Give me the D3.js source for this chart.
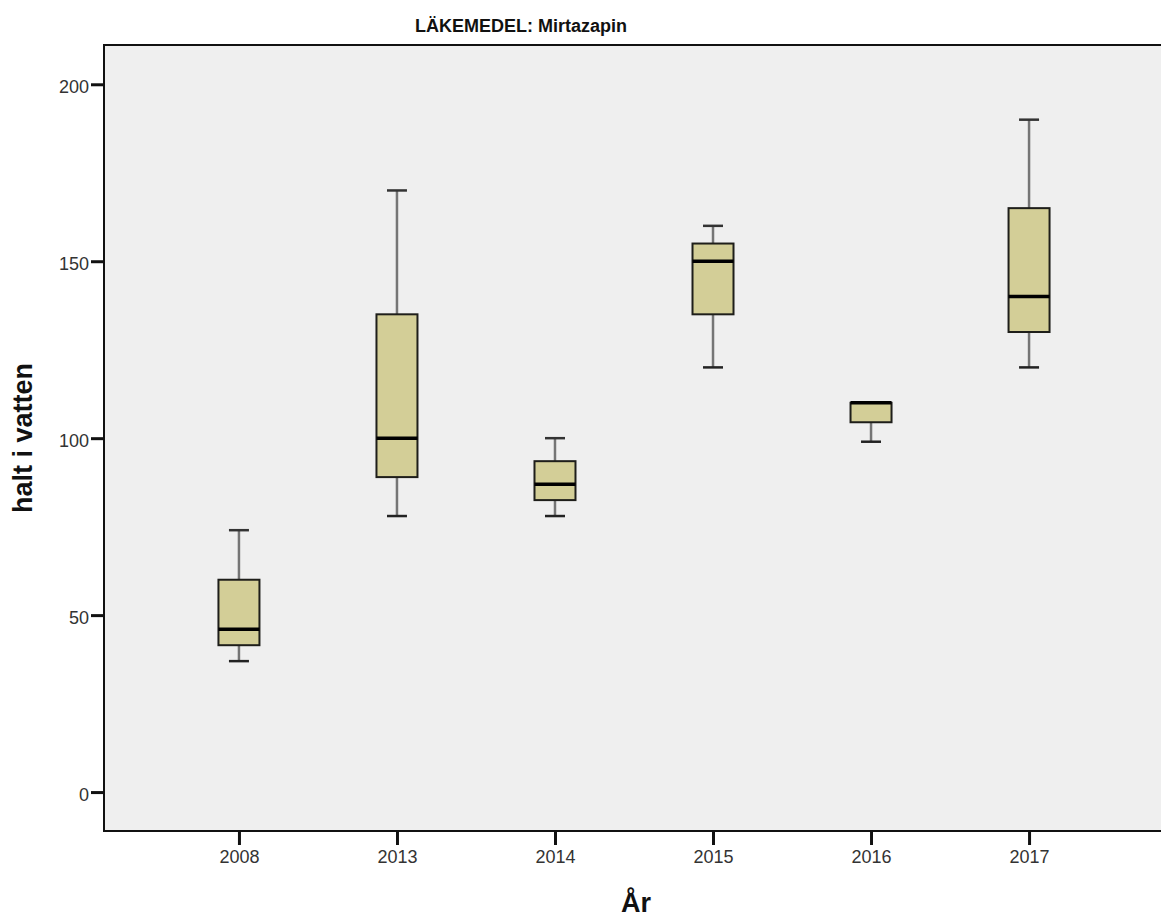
<!DOCTYPE html>
<html>
<head>
<meta charset="utf-8">
<script src="https://cdn.jsdelivr.net/npm/d3@7"></script>
<style>
  body { margin: 0; background: #fff; overflow: hidden; }
  svg { display: block; }
  text { font-family: Arial, "Liberation Sans", sans-serif; }
</style>
</head>
<body>
<svg id="chart" width="1161" height="920"></svg>
<script>
// data
const years = ["2008", "2013", "2014", "2015", "2016", "2017"];
const whiskerLow = [37, 78, 78, 120, 99, 120];
const q1 = [41.5, 89, 82.5, 135, 104.5, 130];
const median = [46, 100, 87, 150, 110, 140];
const q3 = [60, 135, 93.5, 155, 110, 165];
const whiskerHigh = [74, 170, 100, 160, 110, 190];
const yTicks = [0, 50, 100, 150, 200];

const svg = d3.select("#chart");

// plot frame (right edge runs off the picture)
const plotLeft = 104, plotRight = 1164, plotTop = 45, plotBottom = 831;

const x = d3.scalePoint()
  .domain(years)
  .range([plotLeft, plotRight])
  .padding(0.854);

const y = d3.scaleLinear()
  .domain([-11, 211.1])
  .range([plotBottom, plotTop]);

// background
svg.append("rect")
  .attr("x", plotLeft)
  .attr("y", plotTop)
  .attr("width", plotRight - plotLeft)
  .attr("height", plotBottom - plotTop)
  .attr("fill", "#efefef")
  .attr("stroke", "#111")
  .attr("stroke-width", 2);

// axes
const yAxis = svg.append("g")
  .attr("transform", `translate(${plotLeft},0)`)
  .call(d3.axisLeft(y).tickValues(yTicks).tickSize(13).tickPadding(2));
yAxis.select(".domain").remove();
yAxis.selectAll(".tick line").attr("stroke", "#111").attr("stroke-width", 3);
yAxis.selectAll(".tick text")
  .attr("fill", "#333")
  .style("font-size", "18px")
  .attr("dy", "0.45em");

const xAxis = svg.append("g")
  .attr("transform", `translate(0,${plotBottom})`)
  .call(d3.axisBottom(x).tickSize(14).tickPadding(5));
xAxis.select(".domain").remove();
xAxis.selectAll(".tick line").attr("stroke", "#111").attr("stroke-width", 3);
xAxis.selectAll(".tick text")
  .attr("fill", "#333")
  .style("font-size", "18px");

// boxes
const boxW = 41, capW = 20;
const rows = years.map((yr, i) => ({
  yr, lo: whiskerLow[i], q1: q1[i], med: median[i], q3: q3[i], hi: whiskerHigh[i]
}));

const g = svg.append("g")
  .selectAll("g")
  .data(rows)
  .join("g")
  .attr("transform", d => `translate(${x(d.yr)},0)`);

// whiskers
g.append("line")
  .attr("y1", d => y(d.hi)).attr("y2", d => y(d.q3))
  .attr("stroke", "#757575").attr("stroke-width", 2.5);
g.append("line")
  .attr("y1", d => y(d.q1)).attr("y2", d => y(d.lo))
  .attr("stroke", "#757575").attr("stroke-width", 2.5);

// caps
g.append("line")
  .attr("x1", -capW / 2).attr("x2", capW / 2)
  .attr("y1", d => y(d.hi)).attr("y2", d => y(d.hi))
  .attr("stroke", "#333").attr("stroke-width", 2.5);
g.append("line")
  .attr("x1", -capW / 2).attr("x2", capW / 2)
  .attr("y1", d => y(d.lo)).attr("y2", d => y(d.lo))
  .attr("stroke", "#222").attr("stroke-width", 2.5);

g.append("rect")
  .attr("x", -boxW / 2)
  .attr("width", boxW)
  .attr("y", d => y(d.q3))
  .attr("height", d => y(d.q1) - y(d.q3))
  .attr("fill", "#d3ce97")
  .attr("stroke", "#1e1e1a")
  .attr("stroke-width", 2);

// median
g.append("line")
  .attr("x1", -boxW / 2).attr("x2", boxW / 2)
  .attr("y1", d => y(d.med)).attr("y2", d => y(d.med))
  .attr("stroke", "#000").attr("stroke-width", 3.5);

// titles
svg.append("text")
  .attr("x", 521)
  .attr("y", 32)
  .attr("text-anchor", "middle")
  .attr("fill", "#111")
  .style("font-size", "18px")
  .style("font-weight", "bold")
  .text("LÄKEMEDEL: Mirtazapin");

svg.append("text")
  .attr("transform", "translate(32,438) rotate(-90)")
  .attr("text-anchor", "middle")
  .attr("fill", "#111")
  .style("font-size", "27px")
  .style("font-weight", "bold")
  .text("halt i vatten");

svg.append("text")
  .attr("x", 636)
  .attr("y", 912)
  .attr("text-anchor", "middle")
  .attr("fill", "#111")
  .style("font-size", "27px")
  .style("font-weight", "bold")
  .text("År");
</script>
</body>
</html>
